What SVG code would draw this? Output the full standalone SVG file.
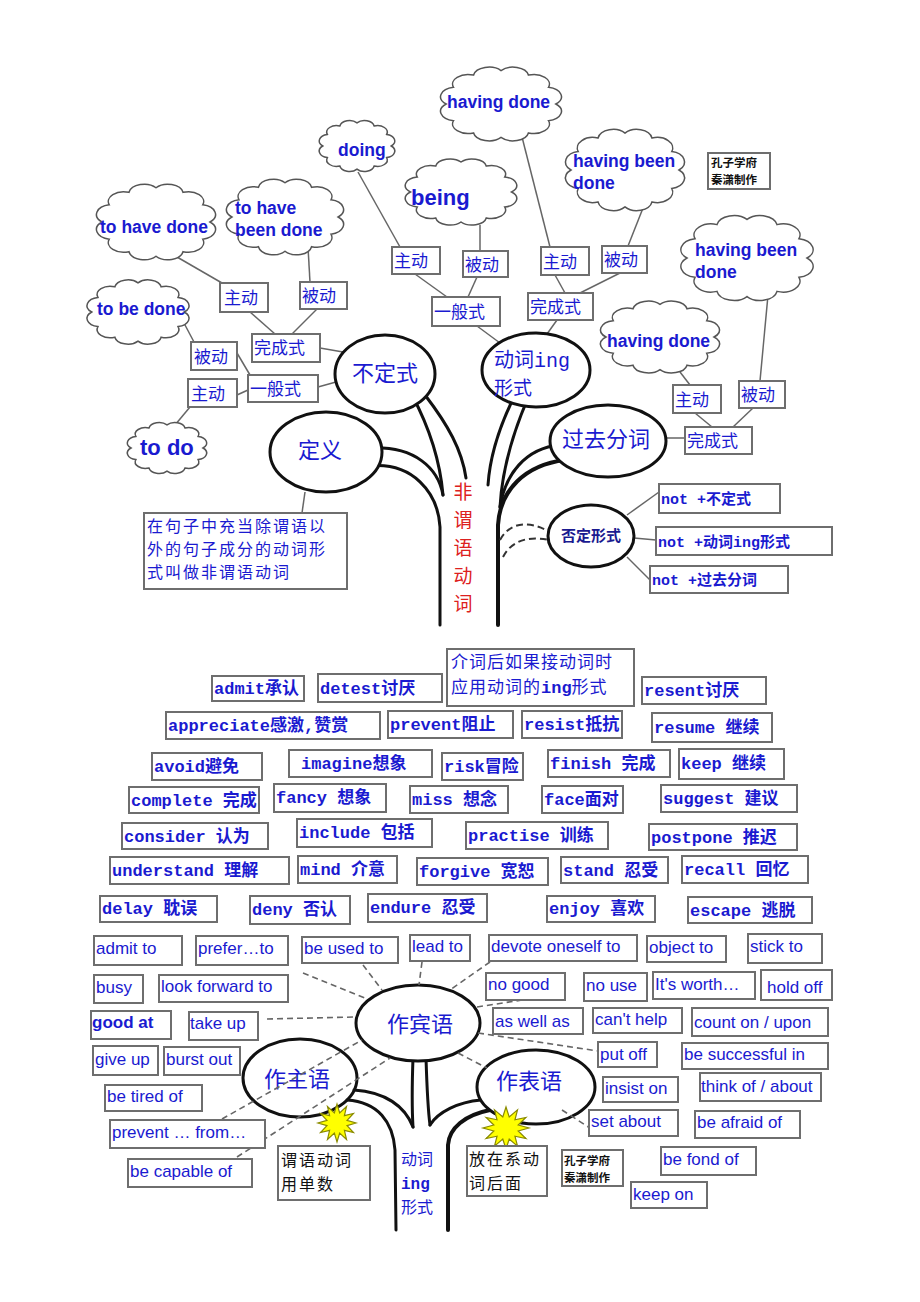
<svg xmlns="http://www.w3.org/2000/svg" xmlns:xlink="http://www.w3.org/1999/xlink" width="920" height="1302" viewBox="0 0 920 1302">
<style>
.bg{fill:#ffffff}
.cloud{fill:#ffffff;stroke:#555555;stroke-width:1.5}
.cl{font-family:"Liberation Sans",Arial,sans-serif;font-weight:bold;font-size:17.5px;fill:#1a1ad0}
.lb{font-family:"Noto Sans CJK SC",sans-serif;font-size:17px;fill:#1a1ad0}
.big{font-family:"Noto Sans CJK SC",sans-serif;font-size:22px;fill:#1a1ad0}
.m{font-family:"Liberation Mono","Noto Sans CJK SC",monospace;font-weight:bold;font-size:17px;fill:#1a1ad0}
.s{font-family:"Liberation Sans","Noto Sans CJK SC",sans-serif;font-size:17px;fill:#1a1ad0}
.blk{font-family:"Noto Sans CJK SC",sans-serif;font-size:16px;letter-spacing:2px;fill:#111111}
.stamp{font-family:"Noto Sans CJK SC",sans-serif;font-weight:bold;font-size:11.5px;fill:#111111}
.bx{fill:#ffffff;stroke:#6e6e6e;stroke-width:2}
.el{fill:#ffffff;stroke:#111111;stroke-width:3}
.ln{fill:none;stroke:#666666;stroke-width:1.5}
.dl{fill:none;stroke:#666666;stroke-width:1.6;stroke-dasharray:6 4}
.dk{fill:none;stroke:#333333;stroke-width:2;stroke-dasharray:7 4}
.tr{fill:none;stroke:#111111;stroke-width:3;stroke-linecap:round}
.star{fill:#ffff00;stroke:#8a8a00;stroke-width:1.2}
.red{font-family:"Noto Sans CJK SC",sans-serif;font-size:19px;fill:#dd2020}
</style>
<defs>
<path id="cloud" vector-effect="non-scaling-stroke" d="M42,0 A12,12 0 0 1 36.37,21 A12,12 0 0 1 21,36.37 A12,12 0 0 1 0,42 A12,12 0 0 1 -21,36.37 A12,12 0 0 1 -36.37,21 A12,12 0 0 1 -42,0 A12,12 0 0 1 -36.37,-21 A12,12 0 0 1 -21,-36.37 A12,12 0 0 1 0,-42 A12,12 0 0 1 21,-36.37 A12,12 0 0 1 36.37,-21 A12,12 0 0 1 42,0 Z"/>
<polygon id="starburst" vector-effect="non-scaling-stroke" points="20,0 10.6,2.8 17.3,10 7.8,7.8 10,17.3 2.8,10.6 0,20 -2.8,10.6 -10,17.3 -7.8,7.8 -17.3,10 -10.6,2.8 -20,0 -10.6,-2.8 -17.3,-10 -7.8,-7.8 -10,-17.3 -2.8,-10.6 0,-20 2.8,-10.6 10,-17.3 7.8,-7.8 17.3,-10 10.6,-2.8"/>
</defs>
<rect class="bg" x="0" y="0" width="920" height="1302"/>

<!-- ============ UPPER TREE ============ -->
<g id="tree-upper">
<path class="tr" d="M370,448 C415,446 438,468 443,495"/>
<path class="tr" d="M412,395 C428,425 440,460 443,495"/>
<path class="tr" d="M370,466 C412,462 438,492 440,527 L440,625"/>
<path class="tr" d="M425,395 C448,425 462,450 466,478"/>
<path class="tr" d="M515,395 C500,425 490,455 488,485"/>
<path class="tr" d="M528,398 C512,435 502,470 500,507"/>
<path class="tr" d="M560,445 C525,448 505,475 500,507"/>
<path class="tr" d="M565,460 C525,465 500,490 498,525 L498,625" style="stroke-width:4"/>
</g>

<g id="connectors-upper">
<line class="ln" x1="177" y1="257" x2="222" y2="283"/>
<line class="ln" x1="308" y1="247" x2="310" y2="282"/>
<line class="ln" x1="250" y1="312" x2="275" y2="334"/>
<line class="ln" x1="317" y1="309" x2="292" y2="334"/>
<line class="ln" x1="185" y1="325" x2="194" y2="342"/>
<line class="ln" x1="237" y1="353" x2="250" y2="375"/>
<line class="ln" x1="237" y1="395" x2="248" y2="390"/>
<line class="ln" x1="190" y1="407" x2="175" y2="425"/>
<line class="ln" x1="320" y1="348" x2="343" y2="352"/>
<line class="ln" x1="318" y1="387" x2="336" y2="382"/>
<line class="ln" x1="358" y1="172" x2="400" y2="247"/>
<line class="ln" x1="480" y1="225" x2="480" y2="251"/>
<line class="ln" x1="415" y1="274" x2="447" y2="297"/>
<line class="ln" x1="477" y1="277" x2="468" y2="297"/>
<line class="ln" x1="477" y1="326" x2="500" y2="343"/>
<line class="ln" x1="522" y1="137" x2="550" y2="247"/>
<line class="ln" x1="555" y1="275" x2="565" y2="293"/>
<line class="ln" x1="620" y1="273" x2="580" y2="293"/>
<line class="ln" x1="645" y1="203" x2="628" y2="246"/>
<line class="ln" x1="557" y1="320" x2="547" y2="334"/>
<line class="ln" x1="680" y1="372" x2="690" y2="385"/>
<line class="ln" x1="768" y1="295" x2="760" y2="381"/>
<line class="ln" x1="695" y1="413" x2="712" y2="427"/>
<line class="ln" x1="753" y1="408" x2="733" y2="427"/>
<line class="ln" x1="666" y1="438" x2="685" y2="438"/>
<line class="ln" x1="627" y1="515" x2="659" y2="492"/>
<line class="ln" x1="634" y1="538" x2="656" y2="540"/>
<line class="ln" x1="627" y1="557" x2="650" y2="580"/>
<line class="ln" x1="305" y1="492" x2="302" y2="513"/>
<path class="dk" d="M500,540 C508,525 525,518 550,532"/>
<path class="dk" d="M503,557 C510,543 525,535 549,540"/>
</g>

<g id="clouds-upper">
<g id="c-to-have-done"><use href="#cloud" class="cloud" transform="translate(156,222) scale(1.286,0.816)"/><text class="cl" x="100" y="233">to have done</text></g>
<g id="c-to-have-been-done"><use href="#cloud" class="cloud" transform="translate(285,217) scale(1.265,0.816)"/><text class="cl" x="235" y="214">to have</text><text class="cl" x="235" y="236">been done</text></g>
<g id="c-doing"><use href="#cloud" class="cloud" transform="translate(357,146) scale(0.816,0.551)"/><text class="cl" x="338" y="156">doing</text></g>
<g id="c-having-done-top"><use href="#cloud" class="cloud" transform="translate(501,104) scale(1.306,0.796)"/><text class="cl" x="447" y="108">having done</text></g>
<g id="c-being"><use href="#cloud" class="cloud" transform="translate(461,192) scale(1.204,0.714)"/><text class="cl" x="411" y="205" style="font-size:22px">being</text></g>
<g id="c-having-been-done-1"><use href="#cloud" class="cloud" transform="translate(625,170) scale(1.286,0.878)"/><text class="cl" x="573" y="167">having been</text><text class="cl" x="573" y="189">done</text></g>
<g id="c-having-been-done-2"><use href="#cloud" class="cloud" transform="translate(747,258) scale(1.429,0.918)"/><text class="cl" x="695" y="256">having been</text><text class="cl" x="695" y="278">done</text></g>
<g id="c-having-done-right"><use href="#cloud" class="cloud" transform="translate(660,337) scale(1.286,0.776)"/><text class="cl" x="607" y="347">having done</text></g>
<g id="c-to-be-done"><use href="#cloud" class="cloud" transform="translate(138,312) scale(1.102,0.694)"/><text class="cl" x="97" y="315">to be done</text></g>
<g id="c-to-do"><use href="#cloud" class="cloud" transform="translate(167,448) scale(0.857,0.551)"/><text class="cl" x="140" y="455" style="font-size:22px">to do</text></g>
</g>

<g id="boxes-upper">
<g id="u-zhudong-a"><rect class="bx" x="220" y="283" width="48" height="29"/><text class="lb" x="224" y="304">主动</text></g>
<g id="u-beidong-a"><rect class="bx" x="300" y="282" width="47" height="27"/><text class="lb" x="302" y="302">被动</text></g>
<g id="u-wancheng-l"><rect class="bx" x="252" y="334" width="68" height="28"/><text class="lb" x="254" y="354">完成式</text></g>
<g id="u-beidong-l"><rect class="bx" x="191" y="342" width="46" height="28"/><text class="lb" x="194" y="363">被动</text></g>
<g id="u-yiban-l"><rect class="bx" x="248" y="375" width="70" height="27"/><text class="lb" x="250" y="395">一般式</text></g>
<g id="u-zhudong-l"><rect class="bx" x="188" y="379" width="49" height="28"/><text class="lb" x="191" y="400">主动</text></g>
<g id="u-zhudong-m"><rect class="bx" x="392" y="247" width="48" height="27"/><text class="lb" x="394" y="267">主动</text></g>
<g id="u-beidong-m"><rect class="bx" x="463" y="251" width="45" height="26"/><text class="lb" x="465" y="271">被动</text></g>
<g id="u-yiban-m"><rect class="bx" x="432" y="297" width="68" height="29"/><text class="lb" x="434" y="318">一般式</text></g>
<g id="u-zhudong-r"><rect class="bx" x="541" y="247" width="48" height="28"/><text class="lb" x="543" y="268">主动</text></g>
<g id="u-beidong-r"><rect class="bx" x="602" y="246" width="45" height="27"/><text class="lb" x="604" y="266">被动</text></g>
<g id="u-wancheng-m"><rect class="bx" x="528" y="293" width="65" height="27"/><text class="lb" x="530" y="313">完成式</text></g>
<g id="u-zhudong-rr"><rect class="bx" x="673" y="385" width="48" height="28"/><text class="lb" x="675" y="406">主动</text></g>
<g id="u-beidong-rr"><rect class="bx" x="739" y="381" width="46" height="27"/><text class="lb" x="741" y="401">被动</text></g>
<g id="u-wancheng-rr"><rect class="bx" x="685" y="427" width="67" height="27"/><text class="lb" x="687" y="447">完成式</text></g>
<g id="u-stamp"><rect class="bx" x="708" y="153" width="62" height="36"/><text class="stamp" x="711" y="167">孔子学府</text><text class="stamp" x="711" y="184">秦潇制作</text></g>
<g id="u-not-1"><rect class="bx" x="659" y="484" width="121" height="29"/><text class="m" x="661" y="504" style="font-size:15px">not +不定式</text></g>
<g id="u-not-2"><rect class="bx" x="656" y="527" width="176" height="28"/><text class="m" x="658" y="547" style="font-size:15px">not +动词ing形式</text></g>
<g id="u-not-3"><rect class="bx" x="650" y="566" width="138" height="27"/><text class="m" x="652" y="585" style="font-size:15px">not +过去分词</text></g>
<g id="u-definition"><rect class="bx" x="144" y="513" width="203" height="76"/>
<text class="lb" x="147" y="532" style="font-size:16px;letter-spacing:2px">在句子中充当除谓语以</text>
<text class="lb" x="147" y="555" style="font-size:16px;letter-spacing:2px">外的句子成分的动词形</text>
<text class="lb" x="147" y="578" style="font-size:16px;letter-spacing:2px">式叫做非谓语动词</text></g>
</g>

<g id="ellipses-upper">
<g id="e-budingshi"><ellipse class="el" cx="385" cy="374" rx="50" ry="39"/><text class="big" x="385" y="381" text-anchor="middle">不定式</text></g>
<g id="e-dongci-ing"><ellipse class="el" cx="536" cy="370" rx="54" ry="37"/><text class="big" x="494" y="367" style="font-size:20px">动词<tspan style="font-family:'Liberation Mono',monospace">ing</tspan></text><text class="big" x="494" y="395" style="font-size:19px">形式</text></g>
<g id="e-guoqu"><ellipse class="el" cx="608" cy="441" rx="58" ry="36"/><text class="big" x="606" y="447" text-anchor="middle">过去分词</text></g>
<g id="e-dingyi"><ellipse class="el" cx="326" cy="452" rx="56" ry="40"/><text class="big" x="320" y="458" text-anchor="middle">定义</text></g>
<g id="e-fouding"><ellipse class="el" cx="591" cy="536" rx="43" ry="31"/><text class="lb" x="591" y="541" text-anchor="middle" style="font-size:15px;font-weight:bold;fill:#1a1a90">否定形式</text></g>
<g id="t-feiwei">
<text class="red" x="463" y="499" text-anchor="middle">非</text>
<text class="red" x="463" y="527" text-anchor="middle">谓</text>
<text class="red" x="463" y="555" text-anchor="middle">语</text>
<text class="red" x="463" y="583" text-anchor="middle">动</text>
<text class="red" x="463" y="611" text-anchor="middle">词</text>
</g>
</g>

<!-- ============ LOWER TREE ============ -->
<g id="tree-lower">
<path class="tr" d="M347,1100 C378,1102 393,1122 395,1150 L396,1230"/>
<path class="tr" d="M354,1090 C385,1092 405,1106 413,1127"/>
<path class="tr" d="M413,1058 C412,1085 412,1110 413,1127"/>
<path class="tr" d="M426,1058 C427,1090 428,1110 430,1125"/>
<path class="tr" d="M481,1100 C458,1102 438,1112 430,1125"/>
<path class="tr" d="M490,1110 C465,1115 449,1128 448,1145 L448,1230" style="stroke-width:4"/>
</g>

<g id="ellipses-lower">
<g id="e-binyu"><ellipse class="el" cx="418" cy="1023" rx="62" ry="38"/><text class="big" x="420" y="1032" text-anchor="middle">作宾语</text></g>
<g id="e-zhuyu"><ellipse class="el" cx="300" cy="1078" rx="57" ry="39" style="fill:none"/><text class="big" x="297" y="1087" text-anchor="middle">作主语</text></g>
<g id="e-biaoyu"><ellipse class="el" cx="536" cy="1087" rx="59" ry="37"/><text class="big" x="529" y="1089" text-anchor="middle">作表语</text></g>
</g>

<g id="connectors-lower">
<line class="dl" x1="363" y1="965" x2="382" y2="990"/>
<line class="dl" x1="422" y1="962" x2="419" y2="985"/>
<line class="dl" x1="303" y1="973" x2="365" y2="998"/>
<line class="dl" x1="267" y1="1019" x2="355" y2="1017"/>
<line class="dl" x1="490" y1="962" x2="450" y2="990"/>
<line class="dl" x1="477" y1="1007" x2="522" y2="1000"/>
<line class="dl" x1="478" y1="1033" x2="598" y2="1051"/>
<line class="dl" x1="458" y1="1053" x2="487" y2="1068"/>
<line class="dl" x1="562" y1="1110" x2="590" y2="1128"/>
<line class="dl" x1="222" y1="1119" x2="362" y2="1040"/>
<line class="dl" x1="237" y1="1157" x2="390" y2="1058"/>
</g>

<g id="stars">
<use href="#starburst" class="star" transform="translate(337,1123) scale(0.95)"/>
<use href="#starburst" class="star" transform="translate(506,1128) scale(1.15,1.05)"/>
</g>

<g id="boxes-lower">
<g id="w-admit"><rect class="bx" x="212" y="676" width="92" height="25"/><text class="m" x="214" y="694">admit承认</text></g>
<g id="w-detest"><rect class="bx" x="318" y="674" width="124" height="28"/><text class="m" x="320" y="694">detest讨厌</text></g>
<g id="w-note"><rect class="bx" x="447" y="649" width="187" height="57"/><text class="lb" x="451" y="668" style="letter-spacing:1px">介词后如果接动词时</text><text class="lb" x="451" y="693" style="letter-spacing:1px">应用动词的<tspan style="font-family:'Liberation Mono',monospace;font-weight:bold;letter-spacing:0px">ing</tspan>形式</text></g>
<g id="w-resent"><rect class="bx" x="642" y="677" width="124" height="27"/><text class="m" x="644" y="696">resent讨厌</text></g>
<g id="w-appreciate"><rect class="bx" x="166" y="712" width="214" height="27"/><text class="m" x="168" y="731">appreciate感激,赞赏</text></g>
<g id="w-prevent"><rect class="bx" x="388" y="711" width="125" height="27"/><text class="m" x="390" y="730">prevent阻止</text></g>
<g id="w-resist"><rect class="bx" x="522" y="711" width="100" height="27"/><text class="m" x="524" y="730">resist抵抗</text></g>
<g id="w-resume"><rect class="bx" x="652" y="713" width="120" height="29"/><text class="m" x="654" y="733">resume 继续</text></g>
<g id="w-avoid"><rect class="bx" x="152" y="753" width="110" height="27"/><text class="m" x="154" y="772">avoid避免</text></g>
<g id="w-imagine"><rect class="bx" x="289" y="750" width="143" height="27"/><text class="m" x="301" y="769">imagine想象</text></g>
<g id="w-risk"><rect class="bx" x="442" y="753" width="81" height="27"/><text class="m" x="444" y="772">risk冒险</text></g>
<g id="w-finish"><rect class="bx" x="548" y="750" width="122" height="27"/><text class="m" x="550" y="769">finish 完成</text></g>
<g id="w-keep"><rect class="bx" x="679" y="749" width="105" height="30"/><text class="m" x="681" y="769">keep 继续</text></g>
<g id="w-complete"><rect class="bx" x="129" y="787" width="130" height="26"/><text class="m" x="131" y="806">complete 完成</text></g>
<g id="w-fancy"><rect class="bx" x="274" y="784" width="112" height="28"/><text class="m" x="276" y="803">fancy 想象</text></g>
<g id="w-miss"><rect class="bx" x="410" y="786" width="98" height="27"/><text class="m" x="412" y="805">miss 想念</text></g>
<g id="w-face"><rect class="bx" x="542" y="786" width="81" height="27"/><text class="m" x="544" y="805">face面对</text></g>
<g id="w-suggest"><rect class="bx" x="661" y="785" width="136" height="27"/><text class="m" x="663" y="804">suggest 建议</text></g>
<g id="w-consider"><rect class="bx" x="122" y="823" width="146" height="26"/><text class="m" x="124" y="842">consider 认为</text></g>
<g id="w-include"><rect class="bx" x="297" y="819" width="135" height="28"/><text class="m" x="299" y="838">include 包括</text></g>
<g id="w-practise"><rect class="bx" x="466" y="822" width="142" height="27"/><text class="m" x="468" y="841">practise 训练</text></g>
<g id="w-postpone"><rect class="bx" x="649" y="824" width="148" height="26"/><text class="m" x="651" y="843">postpone 推迟</text></g>
<g id="w-understand"><rect class="bx" x="110" y="857" width="179" height="27"/><text class="m" x="112" y="876">understand 理解</text></g>
<g id="w-mind"><rect class="bx" x="298" y="856" width="99" height="27"/><text class="m" x="300" y="875">mind 介意</text></g>
<g id="w-forgive"><rect class="bx" x="417" y="858" width="131" height="27"/><text class="m" x="419" y="877">forgive 宽恕</text></g>
<g id="w-stand"><rect class="bx" x="561" y="857" width="107" height="26"/><text class="m" x="563" y="876">stand 忍受</text></g>
<g id="w-recall"><rect class="bx" x="682" y="856" width="126" height="27"/><text class="m" x="684" y="875">recall 回忆</text></g>
<g id="w-delay"><rect class="bx" x="100" y="896" width="117" height="26"/><text class="m" x="102" y="914">delay 耽误</text></g>
<g id="w-deny"><rect class="bx" x="250" y="896" width="100" height="28"/><text class="m" x="252" y="915">deny 否认</text></g>
<g id="w-endure"><rect class="bx" x="368" y="894" width="119" height="28"/><text class="m" x="370" y="913">endure 忍受</text></g>
<g id="w-enjoy"><rect class="bx" x="547" y="896" width="108" height="26"/><text class="m" x="549" y="914">enjoy 喜欢</text></g>
<g id="w-escape"><rect class="bx" x="688" y="897" width="124" height="26"/><text class="m" x="690" y="916">escape 逃脱</text></g>

<g id="p-admit-to"><rect class="bx" x="94" y="936" width="88" height="29"/><text class="s" x="96" y="954">admit to</text></g>
<g id="p-prefer"><rect class="bx" x="196" y="936" width="92" height="29"/><text class="s" x="198" y="954">prefer…to</text></g>
<g id="p-used-to"><rect class="bx" x="302" y="937" width="96" height="26"/><text class="s" x="304" y="954">be used to</text></g>
<g id="p-lead-to"><rect class="bx" x="410" y="935" width="60" height="26"/><text class="s" x="412" y="952">lead to</text></g>
<g id="p-devote"><rect class="bx" x="489" y="935" width="148" height="26"/><text class="s" x="491" y="952">devote oneself to</text></g>
<g id="p-object"><rect class="bx" x="647" y="936" width="79" height="26"/><text class="s" x="649" y="953">object to</text></g>
<g id="p-stick"><rect class="bx" x="748" y="934" width="74" height="29"/><text class="s" x="750" y="952">stick to</text></g>
<g id="p-busy"><rect class="bx" x="94" y="975" width="49" height="28"/><text class="s" x="96" y="993">busy</text></g>
<g id="p-look"><rect class="bx" x="159" y="975" width="129" height="27"/><text class="s" x="161" y="992">look forward to</text></g>
<g id="p-no-good"><rect class="bx" x="486" y="973" width="79" height="27"/><text class="s" x="488" y="990">no good</text></g>
<g id="p-no-use"><rect class="bx" x="584" y="973" width="63" height="28"/><text class="s" x="586" y="991">no use</text></g>
<g id="p-worth"><rect class="bx" x="653" y="972" width="102" height="27"/><text class="s" x="655" y="990">It's worth…</text></g>
<g id="p-hold"><rect class="bx" x="761" y="970" width="71" height="30"/><text class="s" x="767" y="993">hold off</text></g>
<g id="p-good-at"><rect class="bx" x="91" y="1011" width="80" height="28"/><text class="s" x="92" y="1028" style="font-weight:bold">good at</text></g>
<g id="p-take-up"><rect class="bx" x="189" y="1012" width="69" height="28"/><text class="s" x="190" y="1029">take up</text></g>
<g id="p-as-well"><rect class="bx" x="493" y="1008" width="90" height="26"/><text class="s" x="495" y="1027">as well as</text></g>
<g id="p-cant"><rect class="bx" x="593" y="1008" width="89" height="25"/><text class="s" x="595" y="1025">can't help</text></g>
<g id="p-count"><rect class="bx" x="692" y="1008" width="136" height="28"/><text class="s" x="694" y="1028">count on / upon</text></g>
<g id="p-give-up"><rect class="bx" x="93" y="1046" width="65" height="29"/><text class="s" x="95" y="1065">give up</text></g>
<g id="p-burst"><rect class="bx" x="164" y="1047" width="76" height="28"/><text class="s" x="166" y="1065">burst out</text></g>
<g id="p-put-off"><rect class="bx" x="598" y="1042" width="59" height="25"/><text class="s" x="600" y="1060">put off</text></g>
<g id="p-successful"><rect class="bx" x="682" y="1043" width="146" height="26"/><text class="s" x="684" y="1060">be successful in</text></g>
<g id="p-tired"><rect class="bx" x="105" y="1085" width="97" height="26"/><text class="s" x="107" y="1102">be tired of</text></g>
<g id="p-insist"><rect class="bx" x="603" y="1077" width="75" height="25"/><text class="s" x="605" y="1094">insist on</text></g>
<g id="p-think"><rect class="bx" x="700" y="1073" width="121" height="28"/><text class="s" x="701" y="1092">think of / about</text></g>
<g id="p-prevent-from"><rect class="bx" x="110" y="1120" width="155" height="28"/><text class="s" x="112" y="1138">prevent … from…</text></g>
<g id="p-set-about"><rect class="bx" x="589" y="1110" width="89" height="26"/><text class="s" x="591" y="1127">set about</text></g>
<g id="p-afraid"><rect class="bx" x="695" y="1111" width="105" height="27"/><text class="s" x="697" y="1128">be afraid of</text></g>
<g id="p-capable"><rect class="bx" x="128" y="1159" width="124" height="28"/><text class="s" x="130" y="1177">be capable of</text></g>
<g id="p-fond"><rect class="bx" x="661" y="1147" width="95" height="28"/><text class="s" x="663" y="1165">be fond of</text></g>
<g id="p-keep-on"><rect class="bx" x="631" y="1182" width="76" height="26"/><text class="s" x="633" y="1200">keep on</text></g>

<g id="n-weiyu"><rect class="bx" x="278" y="1146" width="92" height="54"/><text class="blk" x="281" y="1166">谓语动词</text><text class="blk" x="281" y="1190">用单数</text></g>
<g id="n-xidong"><rect class="bx" x="467" y="1146" width="80" height="50"/><text class="blk" x="469" y="1165">放在系动</text><text class="blk" x="469" y="1189">词后面</text></g>
<g id="n-stamp2"><rect class="bx" x="562" y="1150" width="61" height="36"/><text class="stamp" x="564" y="1165">孔子学府</text><text class="stamp" x="564" y="1182">秦潇制作</text></g>
<g id="n-dongci-ing"><text class="lb" x="401" y="1165" style="font-size:16px">动词</text><text class="lb" x="401" y="1189" style="font-family:'Liberation Mono',monospace;font-weight:bold;font-size:16px">ing</text><text class="lb" x="401" y="1213" style="font-size:16px">形式</text></g>
</g>
</svg>
